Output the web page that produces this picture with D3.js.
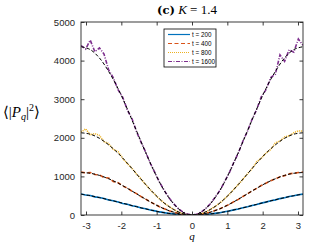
<!DOCTYPE html>
<html>
<head>
<meta charset="utf-8">
<script src="https://cdn.jsdelivr.net/npm/d3@7"></script>
<style>
  body { margin: 0; background: #fff; }
  svg { display: block; }
</style>
</head>
<body>
<svg id="chart"></svg>
<script>
// data
const tLabels = ["t = 200", "t = 400", "t = 800", "t = 1600"];
const colors = ["#0072BD", "#D95319", "#EDB120", "#7E2F8E"];
const dashes = [null, "4,2.5", "1,1", "4,1.5,1,1.5"];

const qData = [-3.14, -3.01, -2.88, -2.75, -2.62, -2.49, -2.36, -2.23, -2.09, -1.96, -1.83, -1.70,
  -1.57, -1.44, -1.31, -1.18, -1.05, -0.92, -0.79, -0.65, -0.52, -0.39, -0.26, -0.13, 0,
  0.13, 0.26, 0.39, 0.52, 0.65, 0.79, 0.92, 1.05, 1.18, 1.31, 1.44, 1.57,
  1.70, 1.83, 1.96, 2.09, 2.23, 2.36, 2.49, 2.62, 2.75, 2.88, 3.01, 3.14];

const p200 = [545, 520, 505, 470, 455, 430, 390, 370, 335, 300, 278, 240, 218, 183, 160, 128, 106, 80, 61, 41, 28, 15, 7, 2, 0,
  2, 8, 15, 28, 43, 59, 82, 104, 132, 157, 188, 213, 247, 273, 307, 333, 368, 392, 425, 447, 478, 498, 525, 540];
const p400 = [1110, 1090, 1100, 1050, 1040, 970, 960, 870, 835, 750, 700, 615, 555, 475, 410, 338, 278, 213, 163, 112, 75, 41, 20, 5, 1,
  5, 19, 42, 73, 115, 160, 218, 272, 343, 405, 480, 548, 625, 690, 765, 822, 890, 935, 990, 1020, 1070, 1080, 1100, 1110];
const p800 = [2150, 2230, 2080, 2110, 2060, 1900, 1850, 1700, 1640, 1470, 1330, 1210, 1060, 930, 790, 655, 535, 415, 312, 220, 143, 82, 36, 10, 2,
  9, 37, 80, 145, 221, 310, 420, 530, 660, 790, 925, 1070, 1200, 1380, 1470, 1600, 1700, 1870, 1920, 2020, 2050, 2130, 2180, 2170];
const p1600 = [4390, 4300, 4530, 4230, 4330, 4170, 3760, 3560, 3240, 3050, 2720, 2500, 2160, 1880, 1630, 1340, 1100, 850, 645, 445, 295, 165, 78, 22, 5,
  20, 75, 170, 290, 455, 635, 860, 1080, 1360, 1600, 1910, 2170, 2480, 2730, 3060, 3240, 3560, 3650, 4150, 3980, 4280, 4220, 4560, 4400];

const qFit = [-3.14, -2.88, -2.62, -2.36, -2.09, -1.83, -1.57, -1.31, -1.05, -0.79, -0.52, -0.26, 0,
  0.26, 0.52, 0.79, 1.05, 1.31, 1.57, 1.83, 2.09, 2.36, 2.62, 2.88, 3.14];
const f200 = [540, 500, 450, 395, 335, 275, 215, 158, 105, 60, 27, 7, 0, 7, 27, 60, 105, 158, 215, 275, 335, 395, 450, 500, 540];
const f400 = [1100, 1081, 1026, 939, 825, 692, 550, 408, 275, 161, 74, 19, 0, 19, 74, 161, 275, 408, 550, 692, 825, 939, 1026, 1081, 1100];
const f800 = [2130, 2094, 1987, 1818, 1598, 1341, 1065, 789, 533, 312, 143, 36, 0, 36, 143, 312, 533, 789, 1065, 1341, 1598, 1818, 1987, 2094, 2130];
const f1600 = [4360, 4286, 4068, 3721, 3270, 2744, 2180, 1616, 1090, 639, 292, 74, 0, 74, 292, 639, 1090, 1616, 2180, 2744, 3270, 3721, 4068, 4286, 4360];

const xTicks = [-3, -2, -1, 0, 1, 2, 3];
const yTicks = [0, 1000, 2000, 3000, 4000, 5000];

const series = [p200, p400, p800, p1600];
const fits = [f200, f400, f800, f1600];

const width = 312, height = 245;
const margin = { top: 22, right: 9, bottom: 30, left: 81 };

const svg = d3.select("#chart").attr("width", width).attr("height", height);

const x = d3.scaleLinear().domain([-Math.PI, Math.PI]).range([margin.left, width - margin.right]);
const y = d3.scaleLinear().domain([0, 5000]).range([height - margin.bottom, margin.top]);

svg.append("clipPath").attr("id", "plotclip").append("rect")
  .attr("x", margin.left).attr("y", margin.top)
  .attr("width", width - margin.left - margin.right)
  .attr("height", height - margin.top - margin.bottom);

const plot = svg.append("g").attr("clip-path", "url(#plotclip)");

// noisy data
series.forEach((vals, i) => {
  const line = d3.line().x((d, j) => x(qData[j])).y(d => y(d));
  plot.append("path")
    .attr("d", line(vals))
    .attr("fill", "none")
    .attr("stroke", colors[i])
    .attr("stroke-width", 1.6)
    .attr("stroke-dasharray", dashes[i]);
});

// fitted curves
fits.forEach(vals => {
  const line = d3.line().x((d, j) => x(qFit[j])).y(d => y(d)).curve(d3.curveCatmullRom);
  plot.append("path")
    .attr("d", line(vals))
    .attr("fill", "none")
    .attr("stroke", "#000")
    .attr("stroke-width", 1)
    .attr("stroke-dasharray", "3.5,2");
});

// axes, ticks inside like matlab
const axisColor = "#262626";
const fontSans = "'Liberation Sans', Arial, sans-serif";
const tickLen = 3.5;

svg.append("rect")
  .attr("x", margin.left).attr("y", margin.top)
  .attr("width", width - margin.left - margin.right)
  .attr("height", height - margin.top - margin.bottom)
  .attr("fill", "none").attr("stroke", axisColor).attr("stroke-width", 0.9);

const xAxis = svg.append("g").attr("transform", `translate(0,${height - margin.bottom})`)
  .call(d3.axisBottom(x).tickValues(xTicks).tickSizeInner(-tickLen).tickSizeOuter(0).tickPadding(7));
const xAxisTop = svg.append("g").attr("transform", `translate(0,${margin.top})`)
  .call(d3.axisTop(x).tickValues(xTicks).tickSizeInner(-tickLen).tickSizeOuter(0).tickFormat(""));
const yAxis = svg.append("g").attr("transform", `translate(${margin.left},0)`)
  .call(d3.axisLeft(y).tickValues(yTicks).tickFormat(d3.format("d")).tickSizeInner(-tickLen).tickSizeOuter(0).tickPadding(6));
const yAxisRight = svg.append("g").attr("transform", `translate(${width - margin.right},0)`)
  .call(d3.axisRight(y).tickValues(yTicks).tickSizeInner(-tickLen).tickSizeOuter(0).tickFormat(""));

[xAxis, xAxisTop, yAxis, yAxisRight].forEach(a => {
  a.select(".domain").remove();
  a.selectAll("line").attr("stroke", axisColor).attr("stroke-width", 0.9);
  a.selectAll("text").attr("fill", axisColor).style("font-family", fontSans).style("font-size", "9.5px");
});
xAxis.selectAll("text").text(d => d < 0 ? "-" + Math.abs(d) : d);

// title
const title = svg.append("text")
  .attr("x", 157).attr("y", 14)
  .style("font-family", "'DejaVu Serif', 'Liberation Serif', serif")
  .style("font-size", "11.5px")
  .attr("fill", "#000");
title.append("tspan").text("(c)").style("font-weight", "bold");
title.append("tspan").text(" K").style("font-style", "italic").attr("font-family", "'Liberation Serif', serif").style("font-size", "13px");
title.append("tspan").text(" = 1.4").attr("font-family", "'Liberation Serif', serif").style("font-size", "13px");

// y label
const ylab = svg.append("text")
  .attr("x", 3).attr("y", 117)
  .style("font-family", "'Liberation Serif', 'DejaVu Serif', serif")
  .style("font-size", "15px")
  .attr("fill", "#000");
ylab.append("tspan").text("\u27E8|");
ylab.append("tspan").text("P").style("font-style", "italic");
ylab.append("tspan").text("q").style("font-style", "italic").style("font-size", "10px").attr("dy", 3);
ylab.append("tspan").text("|").attr("dy", -3);
ylab.append("tspan").text("2").style("font-size", "10px").attr("dy", -6);
ylab.append("tspan").text("\u27E9").attr("dy", 6);

// x label
svg.append("text")
  .attr("x", x(0)).attr("y", 240)
  .attr("text-anchor", "middle")
  .style("font-family", "'Liberation Serif', serif")
  .style("font-style", "italic")
  .style("font-size", "11px")
  .attr("fill", "#000")
  .text("q");

// legend
const lg = svg.append("g").attr("transform", "translate(164,29)");
lg.append("rect").attr("width", 52).attr("height", 38)
  .attr("fill", "#fff").attr("stroke", "#000").attr("stroke-width", 0.8);
tLabels.forEach((lab, i) => {
  const yy = 5.5 + i * 9;
  lg.append("line").attr("x1", 4).attr("x2", 26).attr("y1", yy).attr("y2", yy)
    .attr("stroke", colors[i]).attr("stroke-width", 1.2).attr("stroke-dasharray", dashes[i]);
  lg.append("text").attr("x", 28).attr("y", yy + 2.2)
    .style("font-family", fontSans).style("font-size", "6.3px").attr("fill", "#000").text(lab);
});
</script>
</body>
</html>
